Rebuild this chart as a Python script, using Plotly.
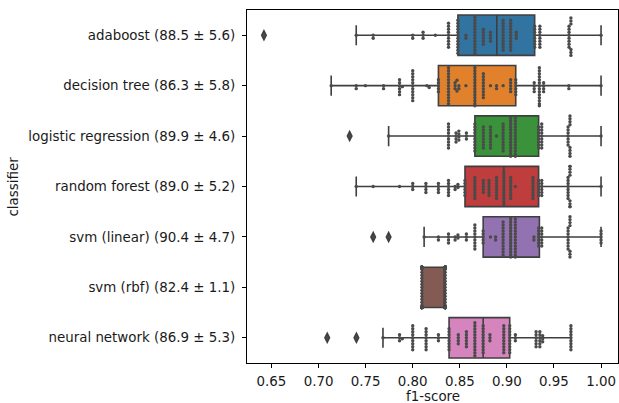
import numpy as np
import plotly.graph_objects as go

# ---------------- data ----------------
categories = [
    "adaboost (88.5 ± 5.6)",
    "decision tree (86.3 ± 5.8)",
    "logistic regression (89.9 ± 4.6)",
    "random forest (89.0 ± 5.2)",
    "svm (linear) (90.4 ± 4.7)",
    "svm (rbf) (82.4 ± 1.1)",
    "neural network (86.9 ± 5.3)",
]

adaboost_values = [0.642, 0.740, 0.758, 0.800, 0.811, 0.824, 0.838, 0.848, 0.8565, 0.866, 0.875, 0.8826,
                   0.896, 0.904, 0.910, 0.9295, 0.935, 0.966, 0.968, 1.000]
adaboost_counts = [1, 1, 2, 2, 3, 1, 9, 12, 2, 13, 6, 4, 11, 11, 3, 8, 8, 8, 6, 1]

decision_tree_values = [0.7134, 0.740, 0.7497, 0.769, 0.786, 0.789, 0.800, 0.815, 0.8175, 0.8273, 0.838,
                        0.845, 0.847, 0.849, 0.8565, 0.866, 0.875, 0.8826, 0.889, 0.896, 0.904, 0.9094,
                        0.929, 0.9345, 0.939, 0.9658, 1.000]
decision_tree_counts = [1, 2, 1, 2, 6, 1, 11, 1, 1, 5, 13, 3, 2, 2, 1, 14, 9, 1, 2, 1, 5, 6, 4, 14, 4, 2, 1]

logistic_values = [0.733, 0.7744, 0.838, 0.846, 0.849, 0.857, 0.866, 0.875, 0.8826, 0.889, 0.896, 0.904,
                   0.909, 0.9337, 0.937, 0.965, 0.967, 1.000]
logistic_counts = [1, 1, 9, 4, 4, 3, 10, 8, 8, 1, 10, 14, 14, 8, 9, 7, 8, 1]

random_forest_values = [0.740, 0.758, 0.786, 0.800, 0.814, 0.8273, 0.838, 0.845, 0.848, 0.8555, 0.866,
                        0.875, 0.881, 0.889, 0.8967, 0.904, 0.909, 0.9277, 0.9337, 0.937, 0.965, 0.967,
                        1.000]
random_forest_counts = [1, 1, 1, 3, 4, 4, 6, 2, 2, 6, 8, 5, 6, 8, 12, 8, 1, 8, 6, 6, 8, 9, 1]

svm_linear_values = [0.758, 0.7744, 0.8121, 0.8273, 0.838, 0.845, 0.848, 0.857, 0.866, 0.8748, 0.8826,
                     0.888, 0.896, 0.904, 0.909, 0.9287, 0.9337, 0.937, 0.965, 0.967, 1.000]
svm_linear_counts = [1, 1, 1, 2, 4, 2, 2, 3, 9, 5, 1, 2, 12, 14, 14, 2, 7, 7, 8, 7, 5]

svm_rbf_values = [0.8097, 0.8345]
svm_rbf_counts = [40, 55]

neural_network_values = [0.7092, 0.7402, 0.7684, 0.786, 0.789, 0.800, 0.8142, 0.8273, 0.8386, 0.8484,
                         0.857, 0.866, 0.8748, 0.882, 0.8967, 0.903, 0.909, 0.931, 0.935, 0.938, 0.968]
neural_network_counts = [1, 1, 1, 3, 1, 9, 8, 3, 8, 4, 6, 12, 10, 3, 10, 10, 3, 6, 6, 3, 9]

box_colors = ["#3274A1", "#E1812C", "#3A923A", "#C03D3E", "#9372B2", "#845B53", "#D684BD"]

x_ticks = [0.65, 0.70, 0.75, 0.80, 0.85, 0.90, 0.95, 1.00]

series = [
    (adaboost_values, adaboost_counts),
    (decision_tree_values, decision_tree_counts),
    (logistic_values, logistic_counts),
    (random_forest_values, random_forest_counts),
    (svm_linear_values, svm_linear_counts),
    (svm_rbf_values, svm_rbf_counts),
    (neural_network_values, neural_network_counts),
]

# ---------------- layout constants ----------------
W, H = 619, 403
ML, MR, MT, MB = 247, 1, 10, 40
X_RANGE = [0.624, 1.018]
plot_w = W - ML - MR
plot_h = H - MT - MB
px_per_x = plot_w / (X_RANGE[1] - X_RANGE[0])
px_per_y = plot_h / 7.0
DOT = 3.0          # swarm point spacing in pixels
HALF_WIDTH = 0.4   # half box width in category units
FONT_SIZE = 13.4


def swarm_offsets(vals):
    """Simple beeswarm (like seaborn's swarmplot), computed in pixel space."""
    vals = np.asarray(vals, dtype=float)
    order = np.argsort(vals, kind="stable")
    px_x = vals * px_per_x
    placed_x = np.empty(0)
    placed_y = np.empty(0)
    offs = np.zeros(len(vals))
    d2 = DOT * DOT
    for i in order:
        x = px_x[i]
        near = np.abs(placed_x - x) < DOT
        nx, ny = placed_x[near], placed_y[near]
        cands = [0.0]
        for qx, qy in zip(nx, ny):
            dy = np.sqrt(max(d2 - (qx - x) ** 2, 0.0))
            cands.append(qy + dy)
            cands.append(qy - dy)
        cands.sort(key=lambda c: (abs(c), -c))
        chosen = cands[-1]
        for c in cands:
            if len(nx) == 0 or np.all((nx - x) ** 2 + (ny - c) ** 2 >= d2 - 1e-6):
                chosen = c
                break
        placed_x = np.append(placed_x, x)
        placed_y = np.append(placed_y, chosen)
        offs[i] = chosen
    offs = offs / px_per_y
    return np.clip(offs, -HALF_WIDTH, HALF_WIDTH)


fig = go.Figure()
edge = "#3f3f3f"

for i, (vals, cnts) in enumerate(series):
    data = np.repeat(vals, cnts)
    fig.add_trace(go.Box(
        x=data, y0=i, orientation="h", width=0.8, whiskerwidth=0.5,
        fillcolor=box_colors[i], line=dict(color=edge, width=1.6),
        boxpoints="outliers", quartilemethod="linear",
        marker=dict(symbol="diamond-tall", size=9, color=edge, line=dict(width=0)),
        name=categories[i], showlegend=False, hoverinfo="skip",
    ))

for i, (vals, cnts) in enumerate(series):
    data = np.repeat(vals, cnts)
    offs = swarm_offsets(data)
    fig.add_trace(go.Scatter(
        x=data, y=i + offs, mode="markers",
        marker=dict(size=3.4, color="#4a4a4a", line=dict(width=0)),
        showlegend=False, hoverinfo="skip",
    ))

font_color = "#1a1a1a"
fig.update_layout(
    width=W, height=H,
    margin=dict(l=ML, r=MR, t=MT, b=MB, pad=0),
    paper_bgcolor="white", plot_bgcolor="white",
    font=dict(family="DejaVu Sans", size=FONT_SIZE, color=font_color),
    showlegend=False,
    hovermode=False,
    annotations=[
        dict(text="f1-score", xref="paper", yref="paper", x=0.5, y=0,
             xanchor="center", yanchor="middle", yshift=-33, showarrow=False,
             font=dict(size=FONT_SIZE)),
        dict(text="classifier", xref="paper", yref="paper", x=0, y=0.5,
             xanchor="center", yanchor="middle", xshift=-234, textangle=-90,
             showarrow=False, font=dict(size=FONT_SIZE)),
    ],
)
fig.update_xaxes(
    range=X_RANGE, tickvals=x_ticks, ticktext=[f"{t:.2f}" for t in x_ticks],
    showgrid=False, zeroline=False, showline=True, mirror=True,
    linecolor="black", linewidth=1, ticks="outside", ticklen=4, tickcolor="black",
    ticklabelstandoff=2, automargin=False,
)
fig.update_yaxes(
    type="linear", range=[6.5, -0.5], tickvals=list(range(7)), ticktext=categories,
    showgrid=False, zeroline=False, showline=True, mirror=True,
    linecolor="black", linewidth=1, ticks="outside", ticklen=4, tickcolor="black",
    ticklabelstandoff=4, automargin=False,
)

# remove the browser's default 8px body margin so the figure fills the window
fig.write_html(
    "out.html",
    config={"displayModeBar": False, "staticPlot": True},
    post_script="document.body.style.margin='0';document.body.style.overflow='hidden';",
)
